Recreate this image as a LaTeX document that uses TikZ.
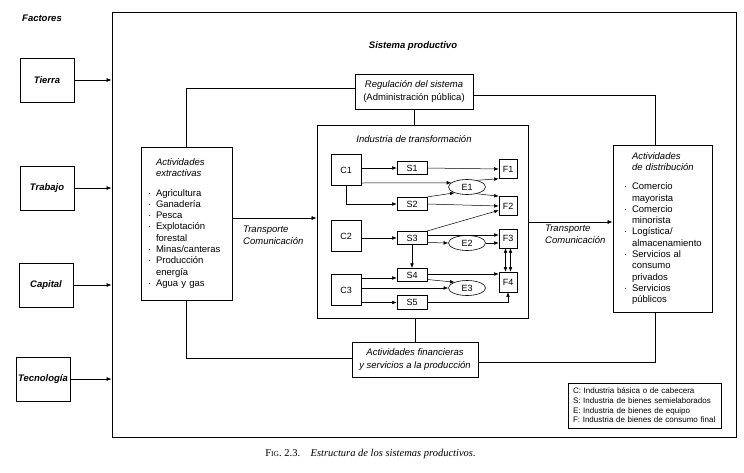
\documentclass[tikz,border=0pt]{standalone}
\usepackage{fontspec}
\setmainfont{Liberation Serif}
\setsansfont{Liberation Sans}
\usetikzlibrary{arrows.meta,shapes.geometric}
\newcommand\itembul{\makebox[8pt][l]{\textperiodcentered}}
\newcommand\itemind{\hspace*{8pt}}
\begin{document}
\begin{tikzpicture}[x=1pt,y=-1pt,
  txt/.style={font=\sffamily\fontsize{9.5}{11.3}\selectfont},
  bitxt/.style={font=\sffamily\bfseries\itshape\fontsize{9.5}{11.3}\selectfont},
  bigbox/.style={draw,line width=0.8pt,inner sep=0pt},
  fbox/.style={draw,line width=0.8pt,inner sep=0pt,minimum width=54pt,minimum height=44pt,bitxt},
  sbox/.style={draw,line width=0.6pt,inner sep=0pt,font=\sffamily\fontsize{9}{10}\selectfont},
  cbox/.style={sbox,minimum width=30pt,minimum height=31pt},
  sebox/.style={sbox,minimum width=30pt,minimum height=13.5pt},
  febox/.style={sbox,minimum width=18pt,minimum height=19pt},
  ell/.style={ellipse,draw,line width=0.6pt,inner sep=0pt,minimum width=37pt,minimum height=15pt,font=\sffamily\fontsize{9}{10}\selectfont},
  arr/.style={-{Latex[length=5pt,width=4pt]},line width=0.6pt},
  iarr/.style={-{Latex[length=4.5pt,width=3.6pt]},line width=0.5pt},
  ln/.style={line width=0.7pt}]
\fill[white] (0,0) rectangle (744,472);
\useasboundingbox (0,0) rectangle (744,472);

% outer system box
\node[draw,line width=1pt,minimum width=624pt,minimum height=425pt,inner sep=0pt] (sys) at (424,224.5) {};
\node[bitxt] (factores) at (42,18) {Factores};
\node[bitxt] (sistema) at (413,46) {Sistema productivo};

% factors
\node[fbox] (tierra) at (47,80) {Tierra};
\node[fbox] (trabajo) at (47,188) {Trabajo};
\node[fbox] (capital) at (46,285) {Capital};
\node[fbox] (tecno) at (43,379) {Tecnología};
\foreach \n in {tierra,trabajo,capital,tecno}
  \draw[arr] (\n.east) -- (\n.east -| sys.west);

% regulation
\node[bigbox,font=\sffamily\fontsize{9.5}{13}\selectfont,minimum width=118pt,minimum height=35pt,align=center] (reg) at (414,91.5)
  {\textit{Regulación del sistema}\\(Administración pública)};

% extractive
\node[bigbox,txt,minimum height=153pt,text width=77pt,inner xsep=7pt,align=left] (ext) at (186.5,223.5)
  {\itemind\textit{Actividades}\\\itemind\textit{extractivas}\\[8pt]
   \itembul Agricultura\\
   \itembul Ganadería\\
   \itembul Pesca\\
   \itembul Explotación\\
   \itemind forestal\\
   \itembul \mbox{Minas/canteras}\\
   \itembul Producción\\
   \itemind energía\\
   \itembul Agua y gas};

% distribution
\node[bigbox,txt,minimum height=167pt,text width=77pt,inner xsep=11pt,align=left] (dist) at (662.5,228.5)
  {\itemind\textit{Actividades}\\\itemind\textit{de distribución}\\[8pt]
   \itembul Comercio\\
   \itemind mayorista\\
   \itembul Comercio\\
   \itemind minorista\\
   \itembul \mbox{Logística/}\\
   \itemind \mbox{almacenamiento}\\
   \itembul Servicios al\\
   \itemind consumo\\
   \itemind privados\\
   \itembul Servicios\\
   \itemind públicos};

% industry
\node[bigbox,minimum width=211pt,minimum height=193pt] (ind) at (422.5,221.5) {};
\node[txt] (indt) at (414,139) {\textit{Industria de transformación}};

% financial
\node[bigbox,font=\sffamily\fontsize{9.5}{13}\selectfont,minimum width=126pt,minimum height=35pt,align=center] (fin) at (415,359.5)
  {\textit{Actividades financieras}\\\textit{y servicios a la producción}};

% connections
\coordinate (t1) at (0,218);
\coordinate (t2) at (0,222);
\draw[ln] ([yshift=3.5pt]reg.west) -| (ext.north);
\draw[ln] ([yshift=-3.5pt]reg.east) -| ([xshift=-7pt]dist.north);
\draw[ln] (reg.south) -- (reg.south |- ind.north);
\draw[ln] (fin.north) -- (fin.north |- ind.south);
\draw[ln] (ext.south) |- ([yshift=1.5pt]fin.west);
\draw[ln] ([yshift=-2.5pt]fin.east) -| ([xshift=-7pt]dist.south);
\draw[arr] (ext.east |- t1) -- (ind.west |- t1);
\draw[arr] (ind.east |- t2) -- (dist.west |- t2);
\node[txt,anchor=north west,inner sep=0pt,align=left] (tc1) at (243,226) {\textit{Transporte}\\\textit{Comunicación}};
\node[txt,anchor=north west,inner sep=0pt,align=left] (tc2) at (545,225) {\textit{Transporte}\\\textit{Comunicación}};

% inner nodes
\node[cbox] (C1) at (346,170) {C1};
\node[cbox] (C2) at (346,236) {C2};
\node[cbox] (C3) at (346,290) {C3};
\node[sebox] (S1) at (412,168) {S1};
\node[sebox] (S2) at (412,204) {S2};
\node[sebox] (S3) at (412,238) {S3};
\node[sebox] (S4) at (412,275) {S4};
\node[sebox] (S5) at (412,302.5) {S5};
\node[ell] (E1) at (467,187) {E1};
\node[ell] (E2) at (467,243) {E2};
\node[ell] (E3) at (467,288) {E3};
\node[febox] (F1) at (508,169) {F1};
\node[febox] (F2) at (508,206) {F2};
\node[febox] (F3) at (508,238.5) {F3};
\node[febox,minimum height=20pt] (F4) at (508,282) {F4};

% inner arrows
\draw[iarr] (C1.east |- S1) -- (S1.west);
\draw[iarr] ([yshift=-13pt]C1.east) -- (E1.165);
\draw[iarr] (C1.south) |- (S2.west);
\draw[iarr] (S1.east) -- (F1.west);
\draw[iarr] (S2.north east) -- (E1.205);
\draw[iarr] (S2.east) -- (F2.west);
\draw[iarr] (E1.35) -- (F1.south west);
\draw[iarr] (E1.-35) -- (F2.north west);
\draw[iarr] (C2.east |- S3) -- (S3.west);
\draw[iarr] (S3.north east) -- (F2.205);
\draw[iarr] ([yshift=3pt]S3.east) -- ([yshift=3pt]S3.east -| F3.west);
\draw[iarr] ([yshift=-4.5pt]S3.east) -- (E2.west);
\draw[iarr] (E2.east) -- (E2.east -| F3.west);
\draw[iarr] (S3.south) -- (S4.north);
\draw[iarr,{Latex[length=4.5pt,width=3.6pt]}-{Latex[length=4.5pt,width=3.6pt]}] ([xshift=-2.5pt]F3.south) -- ([xshift=-2.5pt]F4.north);
\draw[iarr,{Latex[length=4.5pt,width=3.6pt]}-{Latex[length=4.5pt,width=3.6pt]}] ([xshift=2.5pt]F3.south) -- ([xshift=2.5pt]F4.north);
\draw[iarr] ([yshift=-3pt]C3.east |- S4) -- ([yshift=-3pt]S4.west);
\draw[iarr] ([yshift=1pt]S4.east) -- ([yshift=1pt]S4.east -| F4.west);
\draw[iarr] ([yshift=-4.5pt]S4.east) -- (E3.155);
\draw[iarr] (C3.east |- E3) -- (E3.west);
\draw[iarr] (C3.east |- S5) -- (S5.west);
\draw[iarr] (S5.east) -| (F4.south);

% legend
\node[draw,line width=0.6pt,font=\sffamily\fontsize{8}{9.7}\selectfont,text width=143pt,inner xsep=5pt,minimum height=45pt,align=left] (leg) at (644.5,405.5)
  {C: Industria básica o de cabecera\\S: Industria de bienes semielaborados\\E: Industria de bienes de equipo\\F: Industria de bienes de consumo final};

% caption
\node[font=\rmfamily\fontsize{10.5}{12}\selectfont] (cap) at (370.5,454)
  {F{\fontsize{7.5}{8}\selectfont IG}. 2.3.\quad\textit{Estructura de los sistemas productivos.}};
\end{tikzpicture}
\end{document}
